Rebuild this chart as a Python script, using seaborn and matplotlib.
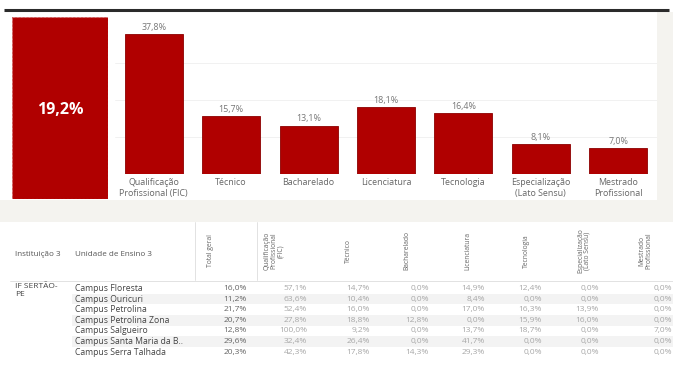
import matplotlib
matplotlib.use("Agg")
import matplotlib.pyplot as plt
import seaborn as sns
import pandas as pd
from matplotlib.patches import Rectangle

# ---------------- data ----------------
total_label = "Total geral"
total_value = 19.2

categories = ["Qualificação\nProfissional (FIC)", "Técnico", "Bacharelado",
              "Licenciatura", "Tecnologia", "Especialização\n(Lato Sensu)",
              "Mestrado\nProfissional"]
values = [37.8, 15.7, 13.1, 18.1, 16.4, 8.1, 7.0]

institution = "IF SERTÃO-\nPE"
header_inst = "Instituição 3"
header_unit = "Unidade de Ensino 3"
units = ["Campus Floresta", "Campus Ouricuri", "Campus Petrolina",
         "Campus Petrolina Zona", "Campus Salgueiro",
         "Campus Santa Maria da B..", "Campus Serra Talhada"]
col_headers = ["Total geral", "Qualificação\nProfissional\n(FIC)", "Técnico",
               "Bacharelado", "Licenciatura", "Tecnologia",
               "Especialização\n(Lato Sensu)", "Mestrado\nProfissional"]
total_geral = [16.0, 11.2, 21.7, 20.7, 12.8, 29.6, 20.3]
qualificacao = [57.1, 63.6, 52.4, 27.8, 100.0, 32.4, 42.3]
tecnico = [14.7, 10.4, 16.0, 18.8, 9.2, 26.4, 17.8]
bacharelado = [0.0, 0.0, 0.0, 12.8, 0.0, 0.0, 14.3]
licenciatura = [14.9, 8.4, 17.0, 0.0, 13.7, 41.7, 29.3]
tecnologia = [12.4, 0.0, 16.3, 15.9, 18.7, 0.0, 0.0]
especializacao = [0.0, 0.0, 13.9, 16.0, 0.0, 0.0, 0.0]
mestrado = [0.0, 0.0, 0.0, 0.0, 7.0, 0.0, 0.0]
table_cols = [total_geral, qualificacao, tecnico, bacharelado, licenciatura,
              tecnologia, especializacao, mestrado]


def fmt(v):
    return f"{v:.1f}%".replace(".", ",")


# ---------------- style ----------------
sns.set_theme(style="white")
plt.rcParams['font.family'] = ['Open Sans', 'DejaVu Sans']

W, H = 673, 365
fig = plt.figure(figsize=(W / 100, H / 100), dpi=100, facecolor="white")


def px_box(x0, y0, x1, y1):
    return [x0 / W, 1 - y1 / H, (x1 - x0) / W, (y1 - y0) / H]


RED = "#b00000"
EDGE = "#8c0000"
OFF = "#f4f3ef"

# background / table axes in pixel coordinates
axbg = fig.add_axes([0, 0, 1, 1], zorder=0)
axbg.set_xlim(0, W)
axbg.set_ylim(H, 0)
axbg.axis("off")

axbg.add_patch(Rectangle((0, 200), W, 22, color=OFF, lw=0))
axbg.add_patch(Rectangle((657, 12), W - 657, 188, color=OFF, lw=0))
axbg.plot([4, 669], [10, 10], color="#2b2b2b", lw=2.2, solid_capstyle="butt")

# ---------------- big total box ----------------
axb = fig.add_axes(px_box(12, 17, 108, 199), zorder=2)
sns.barplot(x=[total_label], y=[total_value], color=RED, saturation=1,
            width=1.0, ax=axb, edgecolor="#d06060", linewidth=0.8,
            linestyle=(0, (2, 1.5)))
axb.set_xlim(-0.5, 0.5)
axb.set_ylim(0, total_value)
axb.axis("off")
axb.text(0, total_value * 0.49, fmt(total_value), color="white",
         fontsize=11.5, fontweight="bold", ha="center", va="center")

# ---------------- bar chart ----------------
ax = fig.add_axes(px_box(115, 17, 657, 174), zorder=2)
df = pd.DataFrame({"cat": categories, "val": values})
sns.barplot(data=df, x="cat", y="val", color=RED, saturation=1, width=0.75,
            ax=ax, edgecolor=EDGE, linewidth=0.6)
ax.set_xlim(-0.5, len(categories) - 0.5)
ax.set_ylim(0, 157 / 3.7)
ax.set_yticks([10, 20, 30])
ax.yaxis.grid(True, color="#efefef", lw=0.6)
ax.set_axisbelow(True)
ax.tick_params(axis="y", left=False, labelleft=False)
ax.tick_params(axis="x", length=0, pad=3, labelsize=6.4, labelcolor="#666666")
ax.set_xlabel("")
ax.set_ylabel("")
for s in ax.spines.values():
    s.set_visible(False)
ax.bar_label(ax.containers[0], labels=[fmt(v) for v in values], padding=1.5,
             fontsize=6.4, color="#777777")

# ---------------- table ----------------
row_y0 = 288.5
row_h = 10.6
for i in range(len(units)):
    if i % 2 == 1:
        axbg.add_patch(Rectangle((72, row_y0 + i * row_h - row_h / 2), W - 72,
                                 row_h, color="#f3f3f3", lw=0))

axbg.plot([195, 195], [222, 280], color="#dddddd", lw=0.6)
axbg.plot([257, 257], [222, 280], color="#dddddd", lw=0.6)
axbg.plot([10, W], [281, 281], color="#dddddd", lw=0.6)

axbg.text(15, 255, header_inst, fontsize=5.8, color="#555555", ha="left", va="center")
axbg.text(75, 255, header_unit, fontsize=5.8, color="#555555", ha="left", va="center")

header_x = [210, 274, 348, 407, 468, 526, 584, 645]
value_right = [247, 307, 370, 429, 485, 542, 599, 672]
for hx, h in zip(header_x, col_headers):
    axbg.text(hx, 251, h, fontsize=4.9, color="#666666", rotation=90,
              ha="center", va="center", linespacing=1.0, multialignment="center")

axbg.text(15, 283.5, institution, fontsize=6.0, color="#444444",
          ha="left", va="top", linespacing=1.1)
for i, u in enumerate(units):
    y = row_y0 + i * row_h
    axbg.text(75, y, u, fontsize=6.2, color="#444444", ha="left", va="center")
    for j, col in enumerate(table_cols):
        color = "#666666" if j == 0 else "#a8a8a8"
        axbg.text(value_right[j], y, fmt(col[i]), fontsize=6.0, color=color,
                  ha="right", va="center")

fig.savefig("out.png", dpi=100, facecolor="white")
